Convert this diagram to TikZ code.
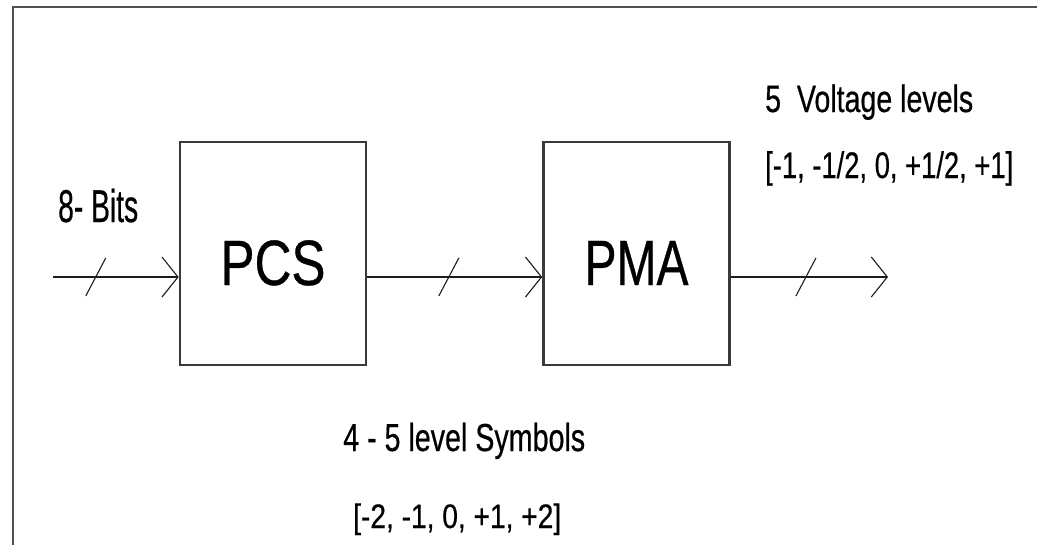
\documentclass[tikz,border=0pt]{standalone}
\usepackage{fontspec}
\setmainfont{Liberation Sans}[FakeBold=0.6]
\usetikzlibrary{arrows.meta,decorations.markings}

\definecolor{framegray}{HTML}{505050}
\definecolor{boxgray}{HTML}{3a3a3a}
\definecolor{linegray}{HTML}{1c1c1c}

% text set at a given size, then squeezed horizontally to a given width
\newcommand{\fitw}[3]{\resizebox{#1pt}{\height}{\fontsize{#2}{#2}\selectfont #3}}

\begin{document}
\begin{tikzpicture}[x=1pt,y=-1pt,
  blk/.style={draw=boxgray,line width=2.6pt,minimum width=186pt,minimum height=223pt,
    inner sep=0pt,text height=63pt,text depth=0pt},
  lbl/.style={anchor=base west,inner sep=0pt},
  bus/.style={draw=linegray,line width=2.2pt,
    -{Straight Barb[length=16pt,width=40pt,line width=1.1pt]},
    decoration={markings,mark=at position #1 with
      {\draw[-,line width=1.1pt,draw=linegray] (-10pt,-19pt) -- (10pt,19pt);}},
    postaction={decorate}}
]
\useasboundingbox (0,0) rectangle (1037,544);

% outer frame (only top and left edges fall on the page)
\draw[framegray,line width=2.8pt] (13,560) -- (13,7) -- (1050,7);

% blocks
\node[blk] (pcs) at (273,253.5) {\fitw{105}{64}{PCS}};
\node[blk] (pma) at (636.5,253.5) {\fitw{104}{64}{PMA}};

% free ends of the input and output buses
\coordinate (src) at (53,277);
\coordinate (dst) at (888,277);

% buses
\draw[bus=0.34] (src) -- (src -| pcs.west);
\draw[bus=0.466] (src -| pcs.east) -- (src -| pma.west);
\draw[bus=0.478] (src -| pma.east) -- (dst);

% labels
\node[lbl] (bits) at (58,222) {\fitw{80}{46}{8- Bits}};
\node[lbl] (volt) at (765,112) {\fitw{208}{38}{5\ \ Voltage levels}};
\node[lbl] (vlev) at (765,178) {\fitw{248}{37}{[-1, -1/2, 0, +1/2, +1]}};
\node[lbl] (sym) at (343,451) {\fitw{242}{39}{4 - 5 level Symbols}};
\node[lbl] (slev) at (353,528) {\fitw{208}{34}{[-2, -1, 0, +1, +2]}};
\end{tikzpicture}
\end{document}
